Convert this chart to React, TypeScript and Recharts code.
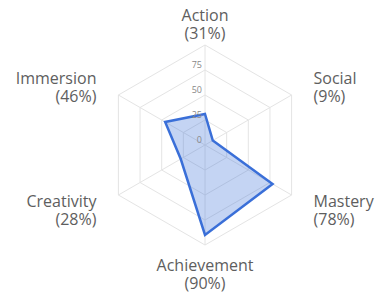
import { RadarChart, Radar, PolarGrid, PolarAngleAxis, PolarRadiusAxis } from 'recharts'

const categories = ['Action', 'Social', 'Mastery', 'Achievement', 'Creativity', 'Immersion']
const scores = [31, 9, 78, 90, 28, 46]
const radiusMax = 100
const radiusTickCount = 5 // 0, 25, 50, 75, 100 (100 not labelled)

const data = categories.map((name, i) => ({ name, score: scores[i] }))

const LABEL_FONT = "'Open Sans', 'Noto Sans', sans-serif"

const AngleTick = (props: any) => {
  const { x, y, textAnchor, payload } = props
  const idx = categories.indexOf(payload.value)
  const s = Math.sin((payload.coordinate * Math.PI) / 180)
  let dx = 0
  if (textAnchor === 'start') dx = 15
  if (textAnchor === 'end') dx = -15
  let dy1 = -7
  if (s > 0.9) dy1 = -16.5
  else if (s < -0.9) dy1 = 17.5
  else if (s < 0) dy1 = 8
  return (
    <text
      x={x + dx}
      y={y + dy1}
      textAnchor={textAnchor}
      fill="#5e5e5e"
      fontSize={16}
      fontWeight={500}
      fontFamily={LABEL_FONT}
    >
      <tspan x={x + dx}>{payload.value}</tspan>
      <tspan x={x + dx} dy={18}>{`(${scores[idx]}%)`}</tspan>
    </text>
  )
}

const RadiusTick = (props: any) => {
  const { x, y, payload } = props
  if (payload.value >= radiusMax) return <g />
  return (
    <text x={x - 3} y={y - 2} textAnchor="end" fill="#888" fontSize={9} fontFamily={LABEL_FONT}>
      {payload.value}
    </text>
  )
}

export default function App() {
  return (
    <div style={{ position: 'absolute', left: 0, top: 0, background: '#fff' }}>
      <RadarChart width={389} height={300} data={data} cx={205} cy={145} outerRadius={100}
        margin={{ top: 0, right: 0, bottom: 0, left: 0 }}>
        <PolarGrid stroke="#e4e4e4" />
        <PolarAngleAxis dataKey="name" tick={AngleTick} tickLine={false} axisLine={false} />
        <PolarRadiusAxis
          angle={90}
          domain={[0, radiusMax]}
          tickCount={radiusTickCount}
          tick={RadiusTick}
          axisLine={false}
          tickLine={false}
        />
        <Radar
          dataKey="score"
          stroke="#3a6fd8"
          strokeWidth={2.5}
          fill="#3a6fd8"
          fillOpacity={0.3}
          dot={false}
          isAnimationActive={false}
        />
      </RadarChart>
    </div>
  )
}
